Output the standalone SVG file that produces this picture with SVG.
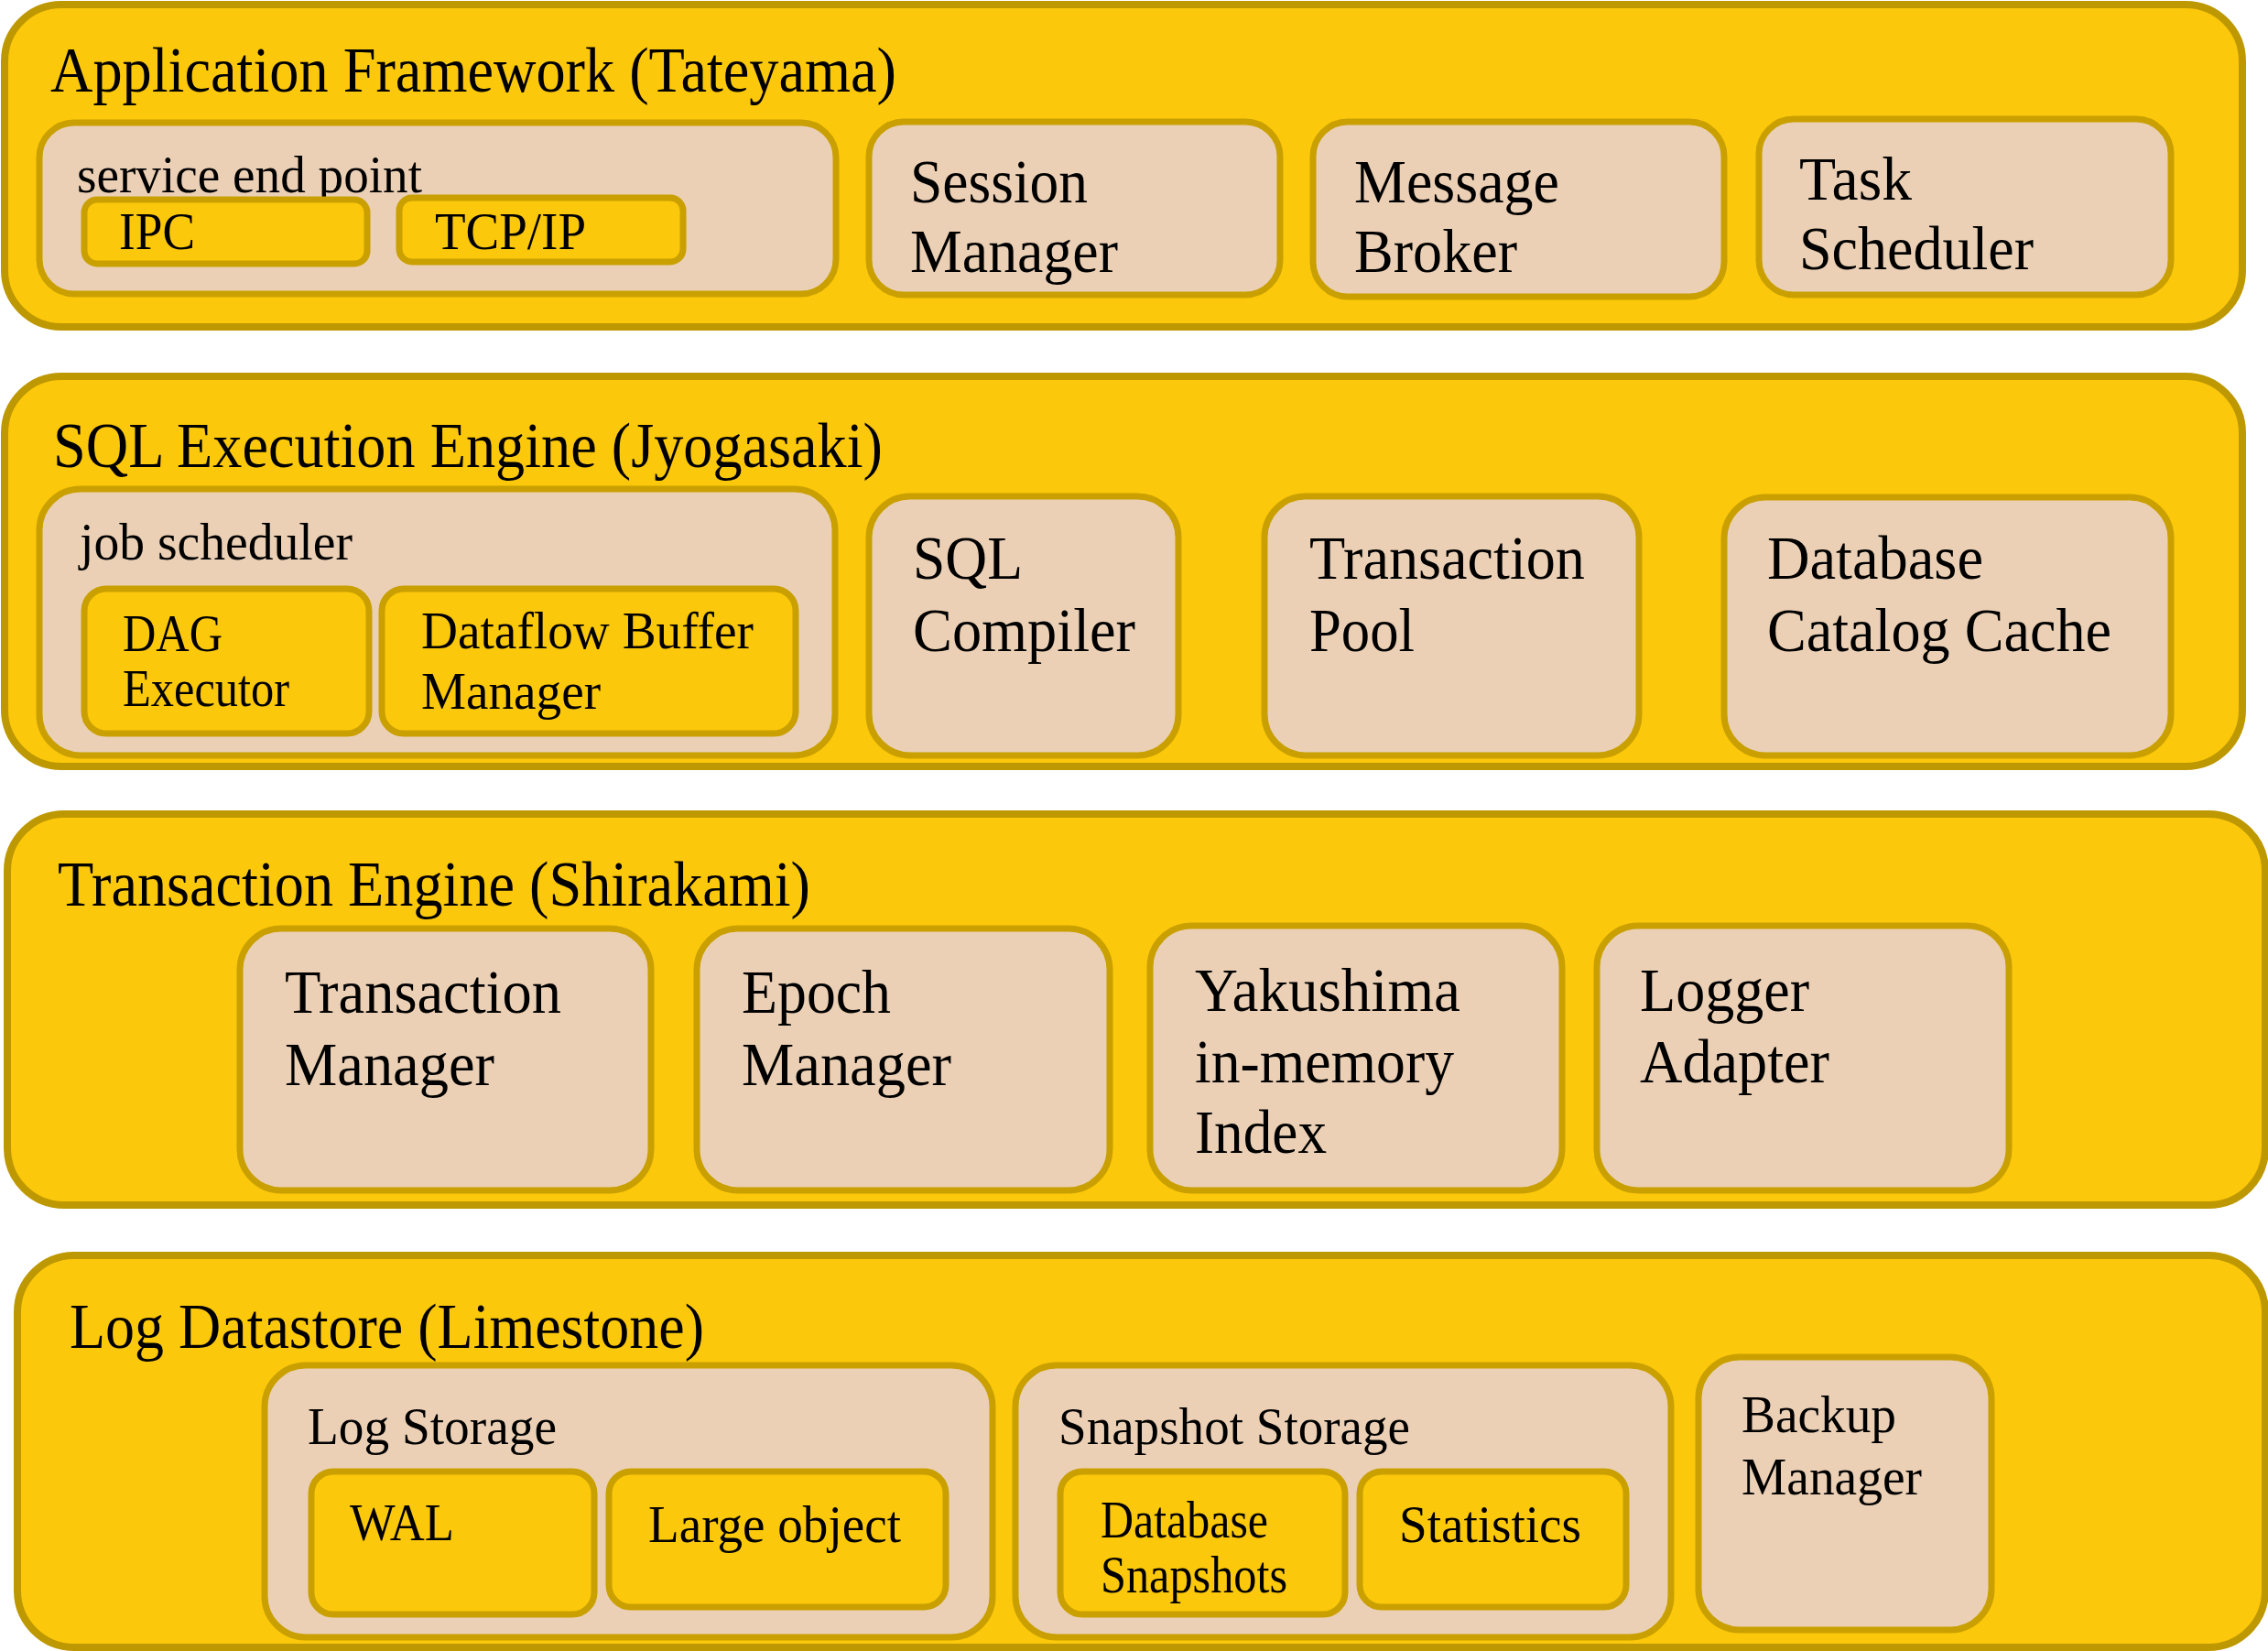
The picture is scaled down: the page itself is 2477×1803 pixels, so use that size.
<svg xmlns="http://www.w3.org/2000/svg" width="2477" height="1803" viewBox="0 0 2477 1803">
<style>
.layer{fill:#FCC80B;stroke:#BE9800;stroke-width:8}
.box{fill:#EBD0B5;stroke:#C9A000;stroke-width:7}
.sub{fill:#FCC80B;stroke:#C9A000;stroke-width:7}
text{font-family:"Liberation Serif","Times New Roman",serif;fill:#000}
.t{font-size:70px}
.b{font-size:68px}
.s{font-size:57px}
</style>
<rect width="2477" height="1803" fill="#fff"/>

<g id="layer-app">
<rect class="layer" x="5" y="5" width="2444" height="352" rx="62"/>
<text class="t" x="55" y="100" textLength="924" lengthAdjust="spacingAndGlyphs">Application Framework (Tateyama)</text>
</g>
<g id="service-end-point">
<rect class="box" x="43" y="134" width="870" height="187" rx="38"/>
<text class="s" x="84" y="210" textLength="377" lengthAdjust="spacingAndGlyphs">service end point</text>
</g>
<g id="ipc">
<rect class="sub" x="92" y="218" width="309" height="70" rx="14"/>
<text class="s" x="130" y="272" textLength="83" lengthAdjust="spacingAndGlyphs">IPC</text>
</g>
<g id="tcpip">
<rect class="sub" x="436" y="216" width="310" height="70" rx="14"/>
<text class="s" x="475" y="272" textLength="165" lengthAdjust="spacingAndGlyphs">TCP/IP</text>
</g>
<g id="session-manager">
<rect class="box" x="949" y="133" width="449" height="189" rx="38"/>
<text class="b" x="994" y="221" textLength="194" lengthAdjust="spacingAndGlyphs">Session</text>
<text class="b" x="994" y="297" textLength="227" lengthAdjust="spacingAndGlyphs">Manager</text>
</g>
<g id="message-broker">
<rect class="box" x="1434" y="133" width="449" height="191" rx="38"/>
<text class="b" x="1479" y="221" textLength="224" lengthAdjust="spacingAndGlyphs">Message</text>
<text class="b" x="1479" y="297" textLength="178" lengthAdjust="spacingAndGlyphs">Broker</text>
</g>
<g id="task-scheduler">
<rect class="box" x="1921" y="130" width="450" height="192" rx="38"/>
<text class="b" x="1965" y="218" textLength="123" lengthAdjust="spacingAndGlyphs">Task</text>
<text class="b" x="1965" y="294" textLength="256" lengthAdjust="spacingAndGlyphs">Scheduler</text>
</g>

<g id="layer-sql">
<rect class="layer" x="5" y="411" width="2444" height="426" rx="62"/>
<text class="t" x="58" y="510" textLength="906" lengthAdjust="spacingAndGlyphs">SQL Execution Engine (Jyogasaki)</text>
</g>
<g id="job-scheduler">
<rect class="box" x="43" y="534" width="869" height="291" rx="45"/>
<text class="s" x="87" y="611" textLength="298" lengthAdjust="spacingAndGlyphs">job scheduler</text>
</g>
<g id="dag-executor">
<rect class="sub" x="92" y="643" width="311" height="158" rx="24"/>
<text class="s" x="134" y="711" textLength="109" lengthAdjust="spacingAndGlyphs">DAG</text>
<text class="s" x="134" y="771" textLength="182" lengthAdjust="spacingAndGlyphs">Executor</text>
</g>
<g id="dataflow-buffer-manager">
<rect class="sub" x="417" y="643" width="452" height="158" rx="24"/>
<text class="s" x="460" y="708" textLength="363" lengthAdjust="spacingAndGlyphs">Dataflow Buffer</text>
<text class="s" x="460" y="774" textLength="196" lengthAdjust="spacingAndGlyphs">Manager</text>
</g>
<g id="sql-compiler">
<rect class="box" x="949" y="542" width="338" height="283" rx="45"/>
<text class="b" x="997" y="632" textLength="120" lengthAdjust="spacingAndGlyphs">SQL</text>
<text class="b" x="997" y="711" textLength="243" lengthAdjust="spacingAndGlyphs">Compiler</text>
</g>
<g id="transaction-pool">
<rect class="box" x="1381" y="542" width="409" height="283" rx="45"/>
<text class="b" x="1430" y="632" textLength="301" lengthAdjust="spacingAndGlyphs">Transaction</text>
<text class="b" x="1430" y="711" textLength="115" lengthAdjust="spacingAndGlyphs">Pool</text>
</g>
<g id="database-catalog-cache">
<rect class="box" x="1883" y="543" width="488" height="282" rx="45"/>
<text class="b" x="1930" y="632" textLength="236" lengthAdjust="spacingAndGlyphs">Database</text>
<text class="b" x="1930" y="711" textLength="376" lengthAdjust="spacingAndGlyphs">Catalog Cache</text>
</g>

<g id="layer-txn">
<rect class="layer" x="8" y="889" width="2466" height="427" rx="62"/>
<text class="t" x="63" y="989" textLength="822" lengthAdjust="spacingAndGlyphs">Transaction Engine (Shirakami)</text>
</g>
<g id="transaction-manager">
<rect class="box" x="262" y="1014" width="449" height="286" rx="45"/>
<text class="b" x="311" y="1106" textLength="302" lengthAdjust="spacingAndGlyphs">Transaction</text>
<text class="b" x="311" y="1185" textLength="229" lengthAdjust="spacingAndGlyphs">Manager</text>
</g>
<g id="epoch-manager">
<rect class="box" x="761" y="1014" width="451" height="286" rx="45"/>
<text class="b" x="810" y="1106" textLength="163" lengthAdjust="spacingAndGlyphs">Epoch</text>
<text class="b" x="810" y="1185" textLength="229" lengthAdjust="spacingAndGlyphs">Manager</text>
</g>
<g id="yakushima">
<rect class="box" x="1256" y="1011" width="450" height="289" rx="45"/>
<text class="b" x="1305" y="1104" textLength="290" lengthAdjust="spacingAndGlyphs">Yakushima</text>
<text class="b" x="1305" y="1182" textLength="283" lengthAdjust="spacingAndGlyphs">in-memory</text>
<text class="b" x="1305" y="1259" textLength="144" lengthAdjust="spacingAndGlyphs">Index</text>
</g>
<g id="logger-adapter">
<rect class="box" x="1744" y="1011" width="450" height="289" rx="45"/>
<text class="b" x="1791" y="1104" textLength="185" lengthAdjust="spacingAndGlyphs">Logger</text>
<text class="b" x="1791" y="1182" textLength="207" lengthAdjust="spacingAndGlyphs">Adapter</text>
</g>

<g id="layer-log">
<rect class="layer" x="19" y="1371" width="2455" height="428" rx="62"/>
<text class="t" x="76" y="1472" textLength="693" lengthAdjust="spacingAndGlyphs">Log Datastore (Limestone)</text>
</g>
<g id="log-storage">
<rect class="box" x="289" y="1491" width="795" height="297" rx="45"/>
<text class="s" x="336" y="1577" textLength="272" lengthAdjust="spacingAndGlyphs">Log Storage</text>
</g>
<g id="wal">
<rect class="sub" x="340" y="1607" width="309" height="156" rx="24"/>
<text class="s" x="382" y="1682" textLength="114" lengthAdjust="spacingAndGlyphs">WAL</text>
</g>
<g id="large-object">
<rect class="sub" x="665" y="1607" width="368" height="148" rx="24"/>
<text class="s" x="708" y="1684" textLength="276" lengthAdjust="spacingAndGlyphs">Large object</text>
</g>
<g id="snapshot-storage">
<rect class="box" x="1109" y="1491" width="716" height="297" rx="45"/>
<text class="s" x="1156" y="1577" textLength="384" lengthAdjust="spacingAndGlyphs">Snapshot Storage</text>
</g>
<g id="database-snapshots">
<rect class="sub" x="1158" y="1607" width="311" height="156" rx="24"/>
<text class="s" x="1202" y="1679" textLength="183" lengthAdjust="spacingAndGlyphs">Database</text>
<text class="s" x="1202" y="1739" textLength="204" lengthAdjust="spacingAndGlyphs">Snapshots</text>
</g>
<g id="statistics">
<rect class="sub" x="1485" y="1607" width="291" height="148" rx="24"/>
<text class="s" x="1528" y="1684" textLength="199" lengthAdjust="spacingAndGlyphs">Statistics</text>
</g>
<g id="backup-manager">
<rect class="box" x="1855" y="1482" width="320" height="298" rx="45"/>
<text class="s" x="1902" y="1564" textLength="169" lengthAdjust="spacingAndGlyphs">Backup</text>
<text class="s" x="1902" y="1632" textLength="197" lengthAdjust="spacingAndGlyphs">Manager</text>
</g>

<g id="connectors"></g>
</svg>
